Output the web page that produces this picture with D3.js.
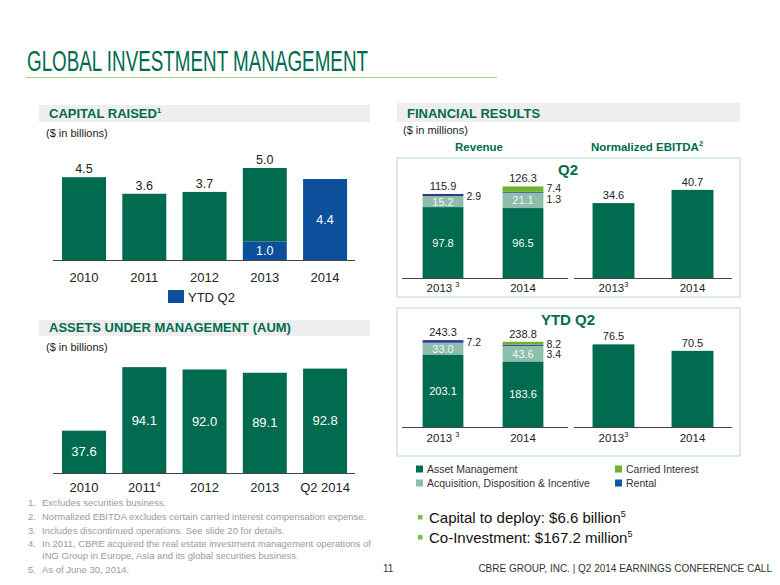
<!DOCTYPE html>
<html><head><meta charset="utf-8">
<script src="https://cdn.jsdelivr.net/npm/d3@7/dist/d3.min.js"></script>
<style>
html,body{margin:0;padding:0;background:#fff;}
svg{display:block;font-family:"Liberation Sans",Arial,sans-serif;}
</style></head>
<body>
<script>
// ---------- DATA ----------
const capYears = ["2010","2011","2012","2013","2014"];
const capTotal = [4.5, 3.6, 3.7, 5.0, 4.4];
const capYtdQ2 = [0, 0, 0, 1.0, 4.4];
const capLegend = ["YTD Q2"];

const aumCats = ["2010","2011","2012","2013","Q2 2014"];
const aumSup = ["","4","","",""];
const aumValues = [37.6, 94.1, 92.0, 89.1, 92.8];

const finYears = ["2013","2014"];
const finSup = ["3",""];
const revSeries = ["Asset Management","Acquisition, Disposition & Incentive","Rental","Carried Interest"];
const revQ2AM = [97.8, 96.5];
const revQ2ADI = [15.2, 21.1];
const revQ2Rental = [2.9, 1.3];
const revQ2Carried = [0, 7.4];
const revQ2Total = [115.9, 126.3];
const revYtdAM = [203.1, 183.6];
const revYtdADI = [33.0, 43.6];
const revYtdRental = [7.2, 3.4];
const revYtdCarried = [0, 8.2];
const revYtdTotal = [243.3, 238.8];
const ebitdaQ2 = [34.6, 40.7];
const ebitdaYtd = [76.5, 70.5];

const footnotes = [
  ["1.","Excludes securities business."],
  ["2.","Normalized EBITDA excludes certain carried interest compensation expense."],
  ["3.","Includes discontinued operations.  See slide 20 for details."],
  ["4.","In 2011, CBRE acquired the real estate investment management operations of"],
  ["","ING Group in Europe, Asia and its global securities business."],
  ["5.","As of June 30, 2014."]
];

// ---------- STYLE ----------
const GREEN = "#006b4f", ADI = "#8dbdab", CARRIED = "#6cb52d", RENTAL = "#2e3592",
      RENTAL_LEG = "#0f58a5", BLUE = "#0c4f9b", BAND = "#eeeeee", TXT = "#222";

const svg = d3.select("body").append("svg").attr("width",780).attr("height",585);

// Title
svg.append("text").attr("x",27).attr("y",71).attr("fill",GREEN)
  .style("font-family","'Liberation Sans Narrow','Arial Narrow',Arial,sans-serif")
  .attr("font-size",29).attr("textLength",341).attr("lengthAdjust","spacingAndGlyphs")
  .text("GLOBAL INVESTMENT MANAGEMENT");
svg.append("line").attr("x1",26).attr("x2",497).attr("y1",77.5).attr("y2",77.5)
  .attr("stroke","#a2d67a").attr("stroke-width",1);

function header(x0,x1,y0,y1,label,sup,tx){
  svg.append("rect").attr("x",x0).attr("y",y0).attr("width",x1-x0).attr("height",y1-y0).attr("fill",BAND);
  const t = svg.append("text").attr("x",tx).attr("y",y1-4.5).attr("fill",GREEN)
    .attr("font-weight","bold").attr("font-size",13).text(label);
  if(sup) t.append("tspan").attr("font-size",8).attr("dy",-5).text(sup);
}
function subnote(x,y,t){
  svg.append("text").attr("x",x).attr("y",y).attr("font-size",11).attr("fill",TXT).text(t);
}

// ---------- CAPITAL RAISED ----------
header(39,370,105,122,"CAPITAL RAISED","1",49);
subnote(46,137,"($ in billions)");
{
  const x = d3.scaleBand().domain(capYears).range([53.9,355.2]).paddingInner(0.27).paddingOuter(0.135);
  const y = d3.scaleLinear().domain([0,5]).range([260,168]);
  const g = svg.append("g");
  capYears.forEach((c,i)=>{
    const rest = capTotal[i]-capYtdQ2[i];
    if(rest>0) g.append("rect").attr("x",x(c)).attr("width",x.bandwidth())
      .attr("y",y(capTotal[i])).attr("height",y(capYtdQ2[i])-y(capTotal[i])).attr("fill",GREEN);
    if(capYtdQ2[i]>0){
      g.append("rect").attr("x",x(c)).attr("width",x.bandwidth())
        .attr("y",y(capYtdQ2[i])).attr("height",y(0)-y(capYtdQ2[i])).attr("fill",BLUE);
      g.append("text").attr("x",x(c)+x.bandwidth()/2).attr("y",(y(capYtdQ2[i])+y(0))/2+4.5)
        .attr("text-anchor","middle").attr("fill","#fff").attr("font-size",12.5).text(d3.format(".1f")(capYtdQ2[i]));
    }
    if(rest>0) g.append("text").attr("x",x(c)+x.bandwidth()/2).attr("y",y(capTotal[i])-4)
      .attr("text-anchor","middle").attr("fill",TXT).attr("font-size",12.5).text(d3.format(".1f")(capTotal[i]));
  });
  g.append("line").attr("x1",53).attr("x2",355).attr("y1",260.5).attr("y2",260.5).attr("stroke","#444").attr("stroke-width",1.2);
  capYears.forEach(c=>{
    g.append("text").attr("x",x(c)+x.bandwidth()/2).attr("y",282).attr("text-anchor","middle")
      .attr("font-size",13).attr("fill",TXT).text(c);
  });
  g.append("rect").attr("x",168).attr("y",290).attr("width",16).attr("height",13).attr("fill",BLUE);
  g.append("text").attr("x",188).attr("y",302).attr("font-size",13).attr("fill",TXT).text(capLegend[0]);
}

// ---------- AUM ----------
header(39,370,320,336,"ASSETS UNDER MANAGEMENT (AUM)","",49);
subnote(46,351,"($ in billions)");
{
  const x = d3.scaleBand().domain(aumCats).range([53.9,355.2]).paddingInner(0.27).paddingOuter(0.135);
  const y = d3.scaleLinear().domain([0,100]).range([473,360.5]);
  const g = svg.append("g");
  aumCats.forEach((c,i)=>{
    g.append("rect").attr("x",x(c)).attr("width",x.bandwidth()).attr("y",y(aumValues[i]))
      .attr("height",y(0)-y(aumValues[i])).attr("fill",GREEN);
    g.append("text").attr("x",x(c)+x.bandwidth()/2).attr("y",(y(aumValues[i])+y(0))/2+4.5)
      .attr("text-anchor","middle").attr("fill","#fff").attr("font-size",13).text(d3.format(".1f")(aumValues[i]));
    const t = g.append("text").attr("x",x(c)+x.bandwidth()/2).attr("y",492).attr("text-anchor","middle")
      .attr("font-size",13).attr("fill",TXT).text(c);
    if(aumSup[i]) t.append("tspan").attr("font-size",8).attr("dy",-5).text(aumSup[i]);
  });
  g.append("line").attr("x1",53).attr("x2",355).attr("y1",473.5).attr("y2",473.5).attr("stroke","#444").attr("stroke-width",1.2);
}

// ---------- FOOTNOTES ----------
{
  const ys = [506,520,534,547,559,573];
  footnotes.forEach((f,i)=>{
    svg.append("text").attr("x",28).attr("y",ys[i]).attr("font-size",9.5).attr("fill","#9a9a9a").text(f[0]);
    svg.append("text").attr("x",42).attr("y",ys[i]).attr("font-size",9.5).attr("fill","#9a9a9a").text(f[1]);
  });
}

// ---------- FINANCIAL RESULTS ----------
header(397,740,103,122,"FINANCIAL RESULTS","",407);
subnote(403,134,"($ in millions)");
svg.append("text").attr("x",479).attr("y",151).attr("text-anchor","middle").attr("font-weight","bold")
  .attr("font-size",11.5).attr("fill",GREEN).text("Revenue");
svg.append("text").attr("x",647).attr("y",151).attr("text-anchor","middle").attr("font-weight","bold")
  .attr("font-size",11.5).attr("fill",GREEN).text("Normalized EBITDA")
  .append("tspan").attr("font-size",7.5).attr("dy",-5).text("2");

function panelBox(y0,y1,title,ty){
  svg.append("rect").attr("x",397).attr("y",y0).attr("width",343).attr("height",y1-y0)
    .attr("fill","none").attr("stroke","#cfe6dd").attr("stroke-width",1.5);
  svg.append("text").attr("x",568).attr("y",ty).attr("text-anchor","middle").attr("font-weight","bold")
    .attr("font-size",15).attr("fill",GREEN).text(title);
}
panelBox(158,297,"Q2",175);
panelBox(308,456,"YTD Q2",325);

function catLabels(g,x,yb,spaced){
  finYears.forEach((c,i)=>{
    const t = g.append("text").attr("x",x(c)+x.bandwidth()/2).attr("y",yb).attr("text-anchor","middle")
      .attr("font-size",11.5).attr("fill",TXT).text(c);
    if(finSup[i]) t.append("tspan").attr("font-size",7.5).attr("dy",-5).attr("dx",spaced?3:0).text(finSup[i]);
  });
}

function revenueChart(base, maxV, pxRange, am, adi, rental, carried, total, catY){
  const x = d3.scaleBand().domain(finYears).range([400,566]).paddingInner(0.49).paddingOuter(0.2825);
  const y = d3.scaleLinear().domain([0,maxV]).range([base,base-pxRange]);
  const g = svg.append("g");
  const fmt = d3.format(".1f");
  finYears.forEach((c,i)=>{
    const segs = [[am[i],GREEN],[adi[i],ADI],[rental[i],RENTAL],[carried[i],CARRIED]];
    let acc = 0;
    const bx = x(c), bw = x.bandwidth();
    segs.forEach(([v,col])=>{
      if(v>0) g.append("rect").attr("x",bx).attr("width",bw).attr("y",y(acc+v)).attr("height",y(acc)-y(acc+v)).attr("fill",col);
      acc += v;
    });
    g.append("text").attr("x",bx+bw/2).attr("y",(y(0)+y(am[i]))/2+4).attr("text-anchor","middle")
      .attr("fill","#fff").attr("font-size",11).text(fmt(am[i]));
    g.append("text").attr("x",bx+bw/2).attr("y",(y(am[i])+y(am[i]+adi[i]))/2+4).attr("text-anchor","middle")
      .attr("fill","#f2f7f5").attr("font-size",11).text(fmt(adi[i]));
    g.append("text").attr("x",bx+bw/2).attr("y",y(total[i])-4).attr("text-anchor","middle")
      .attr("fill",TXT).attr("font-size",11).text(fmt(total[i]));
    const side = [];
    if(carried[i]>0) side.push(carried[i]);
    if(rental[i]>0) side.push(rental[i]);
    side.forEach((v,k)=>{
      g.append("text").attr("x",bx+bw+3).attr("y",y(total[i])+2.5+k*10.5+3.5).attr("fill",TXT)
        .attr("font-size",10.5).text(fmt(v));
    });
  });
  g.append("line").attr("x1",402).attr("x2",568).attr("y1",base+0.5).attr("y2",base+0.5).attr("stroke","#444").attr("stroke-width",1.2);
  catLabels(g,x,catY,true);
}

function ebitdaChart(base, maxV, pxRange, vals, catY){
  const x = d3.scaleBand().domain(finYears).range([572,734]).paddingInner(0.47).paddingOuter(0.26);
  const y = d3.scaleLinear().domain([0,maxV]).range([base,base-pxRange]);
  const g = svg.append("g");
  finYears.forEach((c,i)=>{
    g.append("rect").attr("x",x(c)).attr("width",x.bandwidth()).attr("y",y(vals[i])).attr("height",y(0)-y(vals[i])).attr("fill",GREEN);
    g.append("text").attr("x",x(c)+x.bandwidth()/2).attr("y",y(vals[i])-4).attr("text-anchor","middle")
      .attr("fill",TXT).attr("font-size",11).text(d3.format(".1f")(vals[i]));
  });
  g.append("line").attr("x1",574).attr("x2",732).attr("y1",base+0.5).attr("y2",base+0.5).attr("stroke","#444").attr("stroke-width",1.2);
  catLabels(g,x,catY,false);
}

revenueChart(278,130,94.25,revQ2AM,revQ2ADI,revQ2Rental,revQ2Carried,revQ2Total,292);
ebitdaChart(278,40,86.6,ebitdaQ2,292);
revenueChart(427,250,89.25,revYtdAM,revYtdADI,revYtdRental,revYtdCarried,revYtdTotal,442);
ebitdaChart(427,80,86.4,ebitdaYtd,442);

// Legend
{
  const items = [[revSeries[0],GREEN,414,473],[revSeries[1],ADI,414,487],[revSeries[3],CARRIED,613,473],[revSeries[2],RENTAL_LEG,613,487]];
  items.forEach(([t,c,x,yb])=>{
    svg.append("rect").attr("x",x+2).attr("y",yb-7.5).attr("width",7).attr("height",7).attr("fill",c);
    svg.append("text").attr("x",x+13).attr("y",yb).attr("font-size",10.5).attr("fill","#333").text(t);
  });
}

// Bullets
{
  const b = [["Capital to deploy: $6.6 billion","5",523],["Co-Investment: $167.2 million","5",543]];
  b.forEach(([t,s,yb])=>{
    svg.append("rect").attr("x",418).attr("y",yb-8).attr("width",4.5).attr("height",4.5).attr("fill","#78c043");
    svg.append("text").attr("x",429).attr("y",yb).attr("font-size",15).attr("fill","#111").text(t)
      .append("tspan").attr("font-size",9).attr("dy",-6).text(s);
  });
}
// Footer
svg.append("text").attr("x",383).attr("y",572).attr("font-size",10).attr("fill","#333").text("11");
svg.append("text").attr("x",772).attr("y",572).attr("text-anchor","end").attr("font-size",10).attr("fill","#333")
  .text("CBRE GROUP, INC. | Q2 2014 EARNINGS CONFERENCE CALL");
</script>
</body></html>
